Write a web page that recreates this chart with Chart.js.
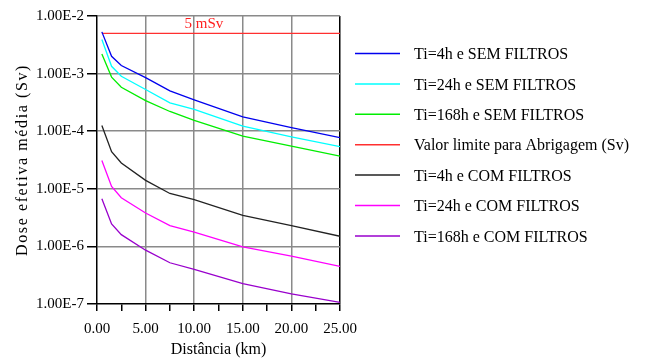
<!DOCTYPE html>
<html><head><meta charset="utf-8">
<script src="https://cdn.jsdelivr.net/npm/chart.js@4"></script>
<style>html,body{margin:0;padding:0;background:#fff}</style>
</head><body>
<canvas id="c" width="647" height="360"></canvas>
<script>
const distances = [0.5, 1.5, 2.5, 5, 7.5, 10, 15, 20, 25];
const semFiltros4h   = [5.3e-3, 2.0e-3, 1.38e-3, 8.5e-4, 5.0e-4, 3.5e-4, 1.78e-4, 1.15e-4, 7.7e-5];
const semFiltros24h  = [3.9e-3, 1.34e-3, 9.0e-4, 5.3e-4, 3.1e-4, 2.4e-4, 1.22e-4, 8.0e-5, 5.4e-5];
const semFiltros168h = [2.2e-3, 8.7e-4, 5.8e-4, 3.4e-4, 2.2e-4, 1.54e-4, 8.2e-5, 5.5e-5, 3.7e-5];
const limiteAbrigagem = [5e-3, 5e-3, 5e-3, 5e-3, 5e-3, 5e-3, 5e-3, 5e-3, 5e-3];
const comFiltros4h   = [1.26e-4, 4.4e-5, 2.8e-5, 1.4e-5, 8.3e-6, 6.5e-6, 3.47e-6, 2.3e-6, 1.5e-6];
const comFiltros24h  = [3.1e-5, 1.1e-5, 7.0e-6, 3.8e-6, 2.3e-6, 1.77e-6, 9.8e-7, 6.8e-7, 4.5e-7];
const comFiltros168h = [6.7e-6, 2.46e-6, 1.6e-6, 8.6e-7, 5.2e-7, 4.0e-7, 2.25e-7, 1.5e-7, 1.07e-7];
const seriesLabels = ['Ti=4h e SEM FILTROS','Ti=24h e SEM FILTROS','Ti=168h e SEM FILTROS','Valor limite para Abrigagem (Sv)','Ti=4h e COM FILTROS','Ti=24h e COM FILTROS','Ti=168h e COM FILTROS'];
const yTickValues = [1e-7, 1e-6, 1e-5, 1e-4, 1e-3, 1e-2];
const xTitle = 'Distância (km)';
const yTitle = 'Dose efetiva média (Sv)';
const limitLabel = '5 mSv';
const limitValue = 5e-3;

const allSeries = [semFiltros4h, semFiltros24h, semFiltros168h, limiteAbrigagem, comFiltros4h, comFiltros24h, comFiltros168h];
const colors = ['#0000ee', '#00ffff', '#00ee00', '#ff3030', '#222222', '#ff00ff', '#9900cc'];
const FONT = '"Liberation Serif", "Times New Roman", serif';

const datasets = allSeries.map((s, i) => ({
  label: seriesLabels[i],
  data: distances.map((d, j) => ({x: d, y: s[j]})),
  borderColor: colors[i],
  backgroundColor: colors[i],
  borderWidth: 1.3,
  pointRadius: 0,
  tension: 0,
  fill: false
}));

const extras = {
  id: 'extras',
  afterDraw(chart) {
    const ctx = chart.ctx, xs = chart.scales.x, ys = chart.scales.y, ca = chart.chartArea;
    ctx.save();
    ctx.font = '15px ' + FONT;
    ctx.fillStyle = '#ff2020';
    ctx.textAlign = 'center';
    ctx.textBaseline = 'alphabetic';
    ctx.fillText(limitLabel, xs.getPixelForValue(11), ys.getPixelForValue(limitValue) - 5);
    ctx.fillStyle = '#000';
    ctx.font = '16px ' + FONT;
    ctx.textBaseline = 'middle';
    ctx.fillText(xTitle, (ca.left + ca.right) / 2, 350);
    ctx.save();
    ctx.translate(23, (ca.top + ca.bottom) / 2);
    ctx.rotate(-Math.PI / 2);
    ctx.letterSpacing = '1.6px';
    ctx.fillText(yTitle, 0, 0);
    ctx.restore();
    ctx.font = '16px ' + FONT;
    ctx.textAlign = 'left';
    ctx.textBaseline = 'middle';
    chart.data.datasets.forEach((ds, i) => {
      const y = 55 + i * 30.4;
      ctx.strokeStyle = ds.borderColor;
      ctx.lineWidth = 1.5;
      ctx.beginPath();
      ctx.moveTo(355, y - 1.5);
      ctx.lineTo(400, y - 1.5);
      ctx.stroke();
      ctx.fillStyle = '#000';
      ctx.fillText(ds.label, 414, y);
    });
    ctx.restore();
  }
};

new Chart(document.getElementById('c'), {
  type: 'line',
  data: { datasets },
  plugins: [extras],
  options: {
    responsive: false,
    devicePixelRatio: 1,
    animation: false,
    layout: { padding: { top: 16, right: 307, left: 0, bottom: 0 } },
    plugins: { legend: { display: false }, tooltip: { enabled: false } },
    scales: {
      x: {
        type: 'linear', min: 0, max: 25,
        afterFit(s) { s.height = 56; },
        ticks: {
          stepSize: 2.5, autoSkip: false, maxRotation: 0, padding: 9,
          color: '#000', font: { family: FONT, size: 15 },
          callback: v => (Math.abs(v % 5) < 1e-9 ? v.toFixed(2) : '')
        },
        grid: {
          lineWidth: 1.5,
          color: c => {
            const v = c.tick ? c.tick.value : 0;
            if (v === 0) return 'rgba(0,0,0,0)';
            if (v === 25) return '#000';
            return Math.abs(v % 5) < 1e-9 ? '#8a8a8a' : 'rgba(0,0,0,0)';
          },
          tickColor: '#000', tickLength: 7, drawTicks: true
        },
        border: { display: true, color: '#000', width: 1.5 }
      },
      y: {
        type: 'logarithmic', min: 1e-7, max: 1e-2,
        afterFit(s) { s.width = 97; },
        afterBuildTicks(s) { s.ticks = yTickValues.map(v => ({ value: v })); },
        ticks: {
          autoSkip: false, padding: 3, color: '#000', font: { family: FONT, size: 15 },
          callback: v => '1.00E' + Math.round(Math.log10(v))
        },
        grid: {
          lineWidth: 1.5,
          color: c => (c.tick && c.tick.value < 1.5e-7 ? 'rgba(0,0,0,0)' : '#8a8a8a'),
          tickColor: '#000', tickLength: 10
        },
        border: { display: true, color: '#000', width: 1.5 }
      }
    }
  }
});
</script>
</body></html>
